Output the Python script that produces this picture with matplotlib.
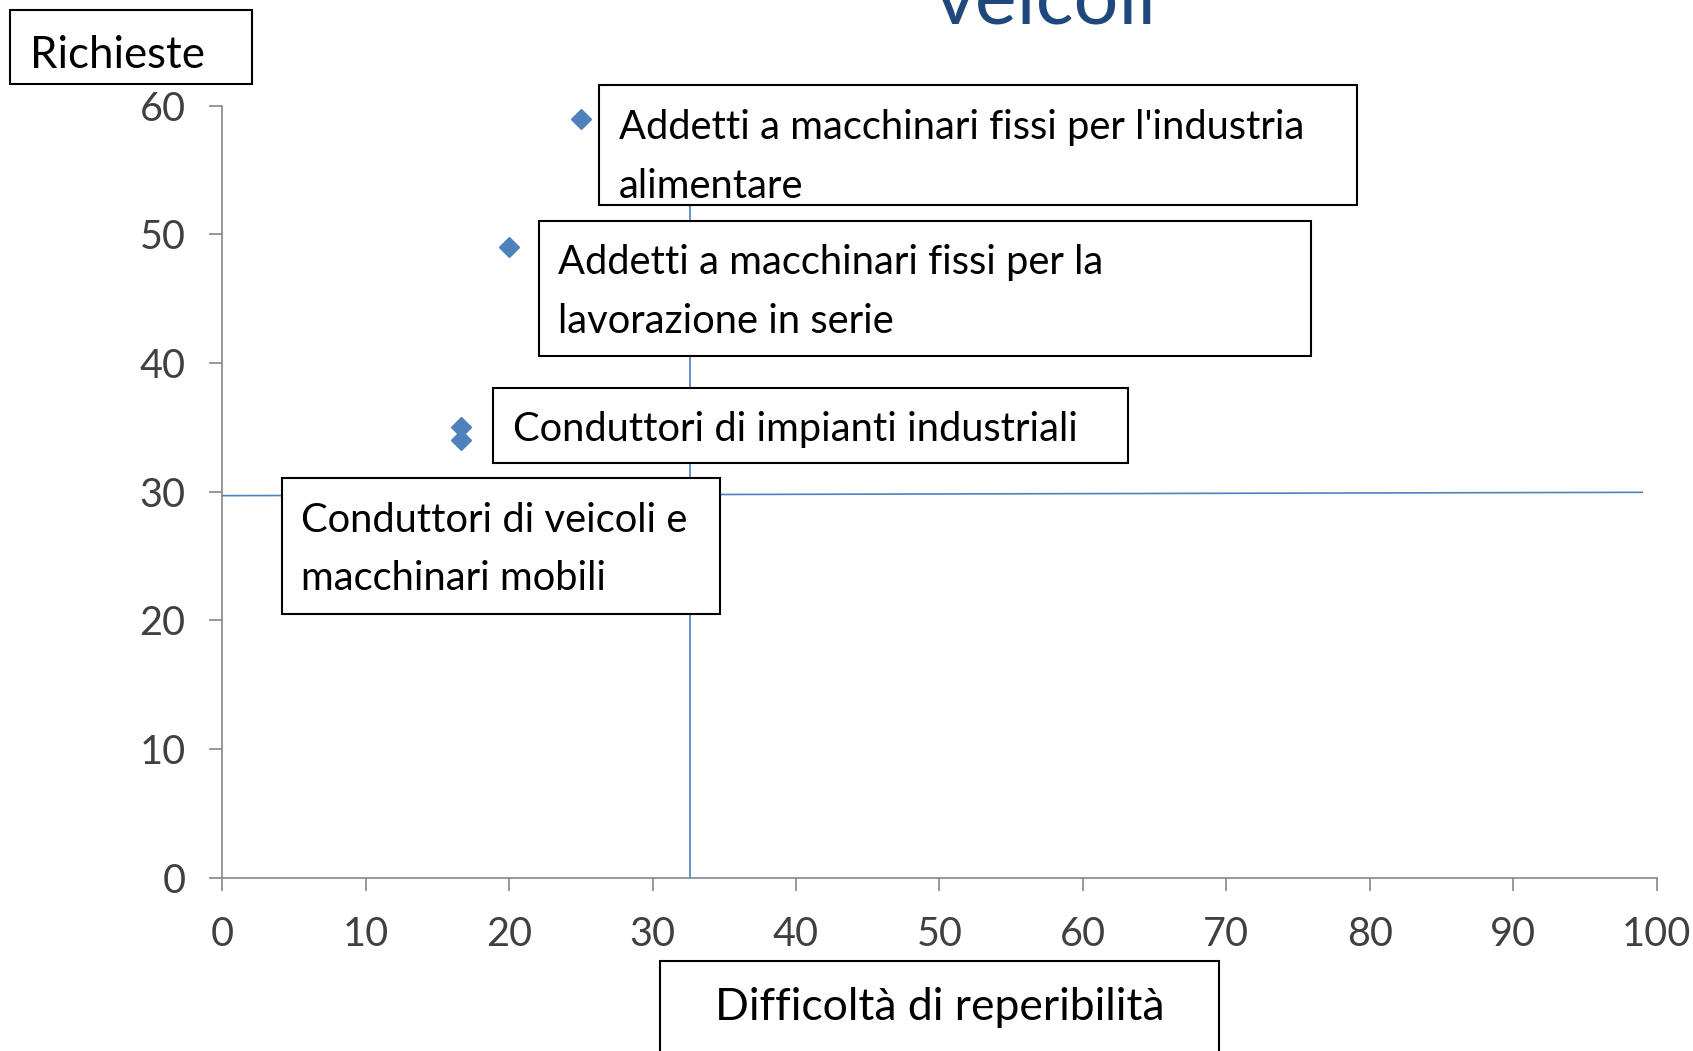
import matplotlib.pyplot as plt
from matplotlib.patches import Rectangle

# data
difficolta = [25, 20, 16.67, 16.67]
richieste = [59, 49, 35, 34]
etichette = ["Addetti a macchinari fissi per l'industria\nalimentare",
             "Addetti a macchinari fissi per la\nlavorazione in serie",
             "Conduttori di impianti industriali",
             "Conduttori di veicoli e\nmacchinari mobili"]
x_ticks = [0, 10, 20, 30, 40, 50, 60, 70, 80, 90, 100]
y_ticks = [0, 10, 20, 30, 40, 50, 60]
media_x = 32.6
media_y = [29.7, 29.96]

W, H = 1693, 1051
plt.rcParams['font.family'] = ['Lato', 'DejaVu Sans']

fig = plt.figure(figsize=(W / 100, H / 100), dpi=100)
ax = fig.add_axes([222.4 / W, 1 - 877.8 / H, (1656.5 - 222.4) / W, (877.8 - 105.8) / H])

ax.plot([0, 99], media_y, color='#4F81BD', lw=1.2, zorder=1)
ax.plot([media_x, media_x], [0, 60], color='#4F81BD', lw=1.2, zorder=1)
ax.plot(difficolta, richieste, 'D', color='#4F81BD', ms=10.5, ls='none', zorder=3)

ax.set_xlim(0, 100)
ax.set_ylim(0, 60)
ax.set_xticks(x_ticks)
ax.set_yticks(y_ticks)
for s in ['top', 'right']:
    ax.spines[s].set_visible(False)
for s in ['left', 'bottom']:
    ax.spines[s].set_color('#868686')
    ax.spines[s].set_linewidth(1.2)
ax.tick_params(direction='out', length=9.4, width=1.2, color='#868686',
               labelsize=28.5, labelcolor='#404040')
ax.tick_params(axis='x', pad=18)
ax.tick_params(axis='y', pad=17)


def box(x0, y0, x1, y1):
    # pixel coords from top-left of the figure
    r = Rectangle((x0 / W, 1 - y1 / H), (x1 - x0) / W, (y1 - y0) / H,
                  transform=fig.transFigure, facecolor='white',
                  edgecolor='black', lw=1.5, zorder=2)
    fig.add_artist(r)


def txt(x, y, s, size=28.7, **kw):
    fig.text(x / W, 1 - y / H, s, fontsize=size, color='black', zorder=3,
             linespacing=1.72, **kw)


# label boxes
box(599, 85.3, 1357, 205.1)
txt(618.7, 157, etichette[0], va='center')
box(538.8, 221.3, 1310.5, 356.3)
txt(558.2, 292, etichette[1], va='center')
box(493.4, 387.6, 1128.3, 463.2)
txt(512.9, 429.5, etichette[2], va='center')
box(281.8, 478.3, 720.2, 614.4)
txt(301.2, 549.5, etichette[3], va='center')

# axis title boxes
box(9.7, 9.7, 251.6, 84.2)
txt(30, 55, "Richieste", size=31.5, va='center')
box(659.7, 961, 1218.9, 1060)
txt(939.3, 1007, "Difficoltà di reperibilità", size=32, va='center', ha='center')

# chart title, cut at the top edge as in the original
fig.text(1045 / W, 1 - 24 / H, "veicoli", fontsize=57, color='#1F497D',
         ha='center', va='baseline')

fig.savefig('out.png', dpi=100)
